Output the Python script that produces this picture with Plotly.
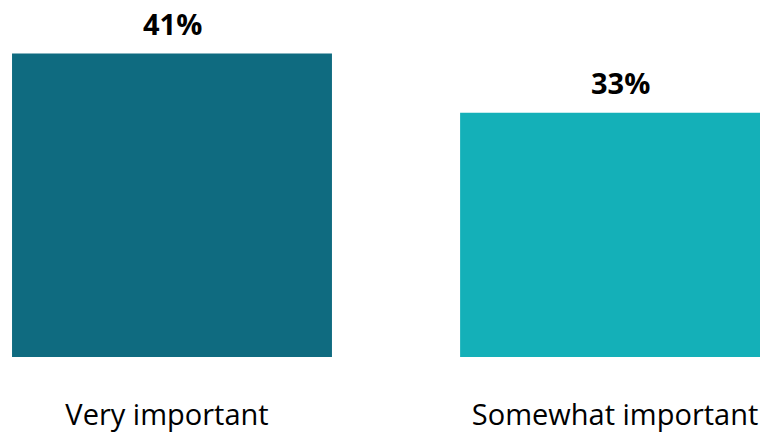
import plotly.graph_objects as go

categories = ["Very important", "Somewhat important"]
values = [41, 33]
colors = ["#0f6b80", "#14b0b8"]
labels = [f"{v}%" for v in values]

fig = go.Figure()
fig.add_trace(go.Bar(
    x=categories, y=values, marker_color=colors, width=0.714,
    marker_line_width=0, hoverinfo="skip",
))
for c, v, t in zip(categories, values, labels):
    fig.add_annotation(x=c, y=v, text=f"<b>{t}</b>", showarrow=False,
                       yanchor="bottom", yshift=9,
                       font=dict(family="Open Sans", size=29, color="#000000"))

# page body adds an 8px offset; geometry compensates for it
fig.update_layout(
    width=768, height=433,
    margin=dict(l=0, r=0, t=0, b=84, autoexpand=False),
    paper_bgcolor="white", plot_bgcolor="white",
    showlegend=False,
    xaxis=dict(range=[-0.366, 1.348], showgrid=False, zeroline=False, showline=False,
               ticks="", ticklabelstandoff=38, ticklabelshift=-5, automargin=False,
               tickfont=dict(family="Open Sans", size=29, color="#000000")),
    yaxis=dict(range=[0, 47.16], visible=False, automargin=False),
)
fig.write_html("out.html")
